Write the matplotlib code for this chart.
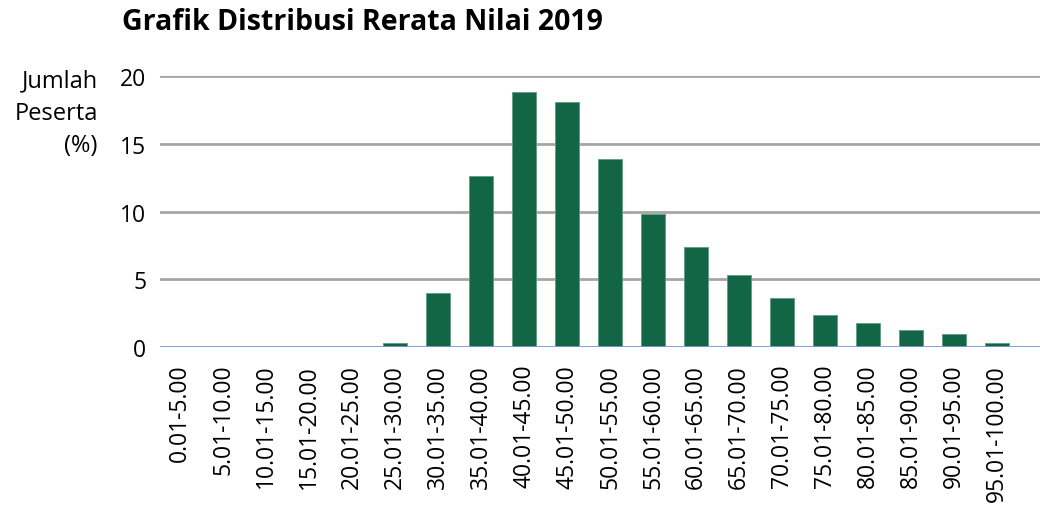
import matplotlib
matplotlib.use("Agg")
import matplotlib.pyplot as plt

plt.rcParams['font.family'] = ['Open Sans', 'DejaVu Sans']

categories = ['0.01-5.00', '5.01-10.00', '10.01-15.00', '15.01-20.00', '20.01-25.00',
              '25.01-30.00', '30.01-35.00', '35.01-40.00', '40.01-45.00', '45.01-50.00',
              '50.01-55.00', '55.01-60.00', '60.01-65.00', '65.01-70.00', '70.01-75.00',
              '75.01-80.00', '80.01-85.00', '85.01-90.00', '90.01-95.00', '95.01-100.00']
values = [0.0, 0.0, 0.0, 0.0, 0.02, 0.3, 4.0, 12.6, 18.8, 18.1,
          13.85, 9.8, 7.4, 5.35, 3.6, 2.4, 1.75, 1.25, 0.95, 0.3]
yticks = [0, 5, 10, 15, 20]

fig = plt.figure(figsize=(10.4, 5.06), dpi=100)
ax = fig.add_axes([0.154, 0.312, 0.846, 0.536])

x = list(range(len(categories)))
ax.bar(x, values, width=0.56, color='#136645', edgecolor='#5f9c83', linewidth=0.6, zorder=3)

ax.set_xlim(-0.47, 20.0)
ax.set_ylim(0, 20)
ax.set_yticks(yticks)
ax.set_yticklabels([str(t) for t in yticks], fontsize=16.5)
ax.set_xticks(x)
ax.set_xticklabels(categories, rotation=90, fontsize=16.5)
ax.tick_params(axis='both', length=0)
ax.tick_params(axis='y', pad=10)
ax.tick_params(axis='x', pad=12)

for t in yticks[1:]:
    ax.axhline(t, color='#a6a6a6', linewidth=2, zorder=1)
ax.axhline(0, color='#7b9bd2', linewidth=2, zorder=4)

for s in ax.spines.values():
    s.set_visible(False)

fig.text(0.117, 0.955, 'Grafik Distribusi Rerata Nilai 2019', fontsize=20.5,
         fontweight='bold', ha='left', va='center')
fig.text(0.094, 0.862, 'Jumlah\nPeserta\n(%)', fontsize=17, ha='right', va='top',
         linespacing=1.45)

fig.savefig('out.png', dpi=100)
